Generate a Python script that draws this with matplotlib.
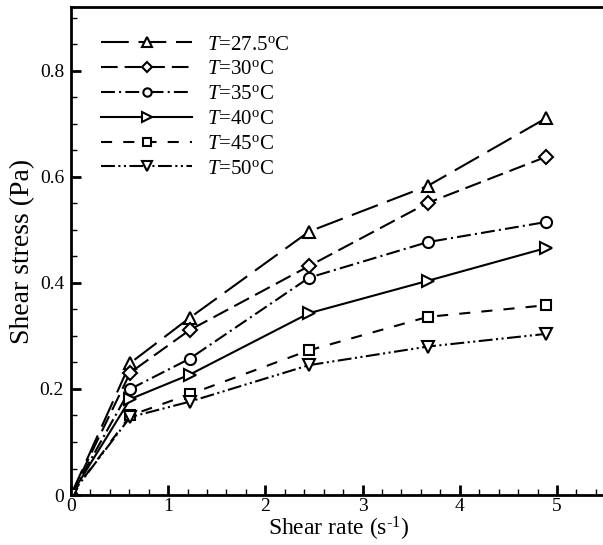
import matplotlib
matplotlib.use("Agg")
import matplotlib.pyplot as plt
from matplotlib.ticker import MultipleLocator, FuncFormatter

plt.rcParams['font.family'] = ['Liberation Serif', 'DejaVu Serif']
plt.rcParams['mathtext.fontset'] = 'custom'
plt.rcParams['mathtext.rm'] = 'Liberation Serif'
plt.rcParams['mathtext.it'] = 'Liberation Serif:italic'
plt.rcParams['lines.scale_dashes'] = False

# Shear rate (1/s)
shear_rate = [0, 0.61, 1.22, 2.45, 3.67, 4.89]

# Shear stress (Pa) per temperature
stress_275 = [0, 0.249, 0.334, 0.497, 0.583, 0.711]
stress_30 = [0, 0.231, 0.311, 0.432, 0.551, 0.638]
stress_35 = [0, 0.200, 0.257, 0.410, 0.477, 0.515]
stress_40 = [0, 0.181, 0.227, 0.343, 0.404, 0.466]
stress_45 = [0, 0.150, 0.190, 0.273, 0.336, 0.358]
stress_50 = [0, 0.147, 0.176, 0.245, 0.280, 0.304]

labels = [r"$T$=27.5$^{\rm o}$C", r"$T$=30$^{\rm o}$C", r"$T$=35$^{\rm o}$C",
          r"$T$=40$^{\rm o}$C", r"$T$=45$^{\rm o}$C", r"$T$=50$^{\rm o}$C"]
series = [stress_275, stress_30, stress_35, stress_40, stress_45, stress_50]
markers = ['^', 'D', 'o', '>', 's', 'v']
msizes = [9, 7, 8, 9, 7, 9]
styles = [(0, (20, 7)), (0, (12, 5)), (0, (10, 3, 1.5, 3)), '-',
          (0, (8, 8)), (0, (10, 2.5, 1.5, 2.5, 1.5, 2.5))]

fig = plt.figure(figsize=(6.03, 5.45), dpi=100)
ax = fig.add_axes([0.1177, 0.0917, 0.8866, 0.895])

for y, lab, m, ms, ls in zip(series, labels, markers, msizes, styles):
    ax.plot(shear_rate, y, color='black', linewidth=1.5, linestyle=ls,
            marker=m, markersize=ms, markerfacecolor='white',
            markeredgecolor='black', markeredgewidth=1.5, label=lab)

ax.set_xlim(0, 5.5)
ax.set_ylim(0, 0.92)
ax.xaxis.set_major_locator(MultipleLocator(1))
ax.xaxis.set_minor_locator(MultipleLocator(0.2))
ax.yaxis.set_major_locator(MultipleLocator(0.2))
ax.yaxis.set_minor_locator(MultipleLocator(0.05))
ax.yaxis.set_major_formatter(FuncFormatter(lambda v, p: '0' if abs(v) < 1e-9 else f'{v:.1f}'))
ax.xaxis.set_major_formatter(FuncFormatter(lambda v, p: f'{v:.0f}'))

ax.tick_params(which='both', direction='in', labelsize=14, top=False, right=False)
ax.tick_params(which='major', length=7, width=2)
ax.tick_params(which='minor', length=4.5, width=1)
ax.tick_params(axis='x', pad=2)
ax.tick_params(axis='y', pad=5)
for side in ['left', 'bottom', 'top']:
    ax.spines[side].set_linewidth(2)
ax.spines['right'].set_visible(False)

ax.set_xlabel(r"Shear rate (s$^{\text{-1}}$)", fontsize=17, labelpad=0)
ax.set_ylabel("Shear stress (Pa)", fontsize=20, labelpad=3)

ax.legend(loc='upper left', bbox_to_anchor=(0.04, 0.96), frameon=False,
          fontsize=15, handlelength=4.4, handletextpad=0.7, markerscale=0.75,
          labelspacing=0.25, borderaxespad=0)

fig.savefig("out.png", dpi=100)
